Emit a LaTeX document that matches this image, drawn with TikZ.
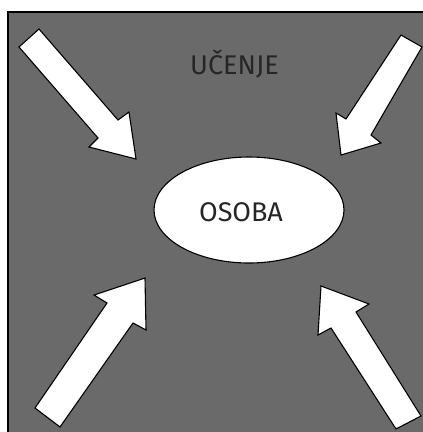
\documentclass[tikz,border=0pt]{standalone}
\usepackage{fontspec}
\setmainfont{Fira Sans}
\usetikzlibrary{shapes.geometric}
\definecolor{bggray}{HTML}{6A6A6A}
\definecolor{txt}{HTML}{262626}
\tikzset{
  blockarrow/.style={fill=white,draw=black,line width=1.1pt,line join=miter},
  frameline/.style={draw=black,line width=1.1pt},
  lbl/.style={text=txt,font=\fontsize{27}{32}\selectfont,inner sep=0pt,anchor=center},
}
\begin{document}
\begin{tikzpicture}[x=1pt,y=-1pt]
\useasboundingbox (0,0) rectangle (423,432);
\fill[bggray] (8,12) rectangle (423,432);
\draw[frameline] (8,432) -- (8,12) -- (423,12);
% top-left arrow
\draw[blockarrow] (19,47) -- (39,29) -- (118,120) -- (129,112) -- (136,159) -- (89,147) -- (98,138) -- cycle;
% top-right arrow
\draw[blockarrow] (401,35) -- (422,47) -- (371,135) -- (381,143) -- (341,155) -- (336,113) -- (346,119) -- cycle;
% bottom-left arrow
\draw[blockarrow] (35,408) -- (60,427) -- (133,323) -- (146,330) -- (145,278) -- (94,295) -- (107,303) -- cycle;
% bottom-right arrow
\draw[blockarrow] (396,429) -- (421,416) -- (356,312) -- (369,304) -- (321,286) -- (318,335) -- (331,328) -- cycle;
\node[ellipse,fill=white,draw=black,line width=1.1pt,minimum width=190,minimum height=106,inner sep=0pt] (osoba) at (249,210) {};
\node[lbl] (osobatxt) at (241,212) {OSOBA};
\node[lbl] (ucenje) at (234.5,64) {UČENJE};
\end{tikzpicture}
\end{document}
